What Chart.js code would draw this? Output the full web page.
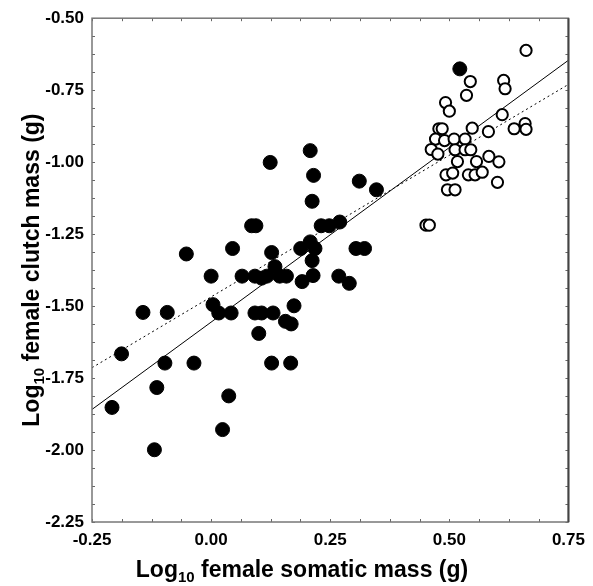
<!DOCTYPE html>
<html><head><meta charset="utf-8">
<script src="https://cdn.jsdelivr.net/npm/chart.js@4"></script>
<style>html,body{margin:0;padding:0;background:#fff}canvas{display:block}</style>
</head><body>
<canvas id="c" width="593" height="586"></canvas>
<script>
// Filled circles (black)
const filledX = [0.208,0.124,0.215,0.311,0.347,0.212,0.085,0.094,0.231,0.248,0.270,-0.052,0.045,0.127,0.188,0.208,0.218,0.212,0.304,0.322,0.134,0.000,0.065,0.092,0.106,0.117,0.144,0.158,0.191,0.214,0.268,0.290,0.004,-0.143,-0.092,0.016,0.042,0.092,0.106,0.130,0.174,0.156,0.168,0.100,-0.188,-0.097,-0.036,0.127,0.167,-0.114,0.037,-0.208,0.024,-0.119,0.522];
const filledY = [-0.960,-1.001,-1.046,-1.066,-1.096,-1.136,-1.221,-1.221,-1.221,-1.221,-1.208,-1.319,-1.300,-1.314,-1.300,-1.277,-1.300,-1.342,-1.300,-1.300,-1.363,-1.396,-1.396,-1.396,-1.403,-1.396,-1.396,-1.396,-1.415,-1.394,-1.396,-1.421,-1.495,-1.522,-1.522,-1.524,-1.524,-1.524,-1.524,-1.524,-1.499,-1.553,-1.562,-1.595,-1.666,-1.698,-1.698,-1.698,-1.698,-1.783,-1.812,-1.852,-1.929,-1.999,-0.676];
// Open circles
const openX = [0.661,0.544,0.614,0.617,0.536,0.492,0.500,0.611,0.478,0.485,0.548,0.582,0.636,0.659,0.661,0.471,0.490,0.510,0.533,0.462,0.476,0.512,0.533,0.545,0.517,0.557,0.583,0.604,0.493,0.507,0.540,0.554,0.569,0.601,0.496,0.512,0.451,0.458];
const openY = [-0.612,-0.720,-0.716,-0.745,-0.768,-0.793,-0.823,-0.835,-0.884,-0.884,-0.882,-0.894,-0.884,-0.866,-0.886,-0.920,-0.925,-0.920,-0.920,-0.956,-0.972,-0.957,-0.957,-0.957,-0.998,-0.998,-0.980,-0.999,-1.044,-1.038,-1.044,-1.044,-1.035,-1.070,-1.096,-1.096,-1.219,-1.219];
// Regression lines (end points)
const solidLineX = [-0.25, 0.75];
const solidLineY = [-1.859, -0.646];
const dottedLineX = [-0.25, 0.75];
const dottedLineY = [-1.714, -0.730];
// Tick labels
const xTickLabels = ['-0.25','0.00','0.25','0.50','0.75'];
const yTickLabels = ['-2.25','-2.00','-1.75','-1.50','-1.25','-1.00','-0.75','-0.50'];
const xTitle = ['Log', '10', ' female somatic mass (g)'];
const yTitle = ['Log', '10', ' female clutch mass (g)'];

const zip = (xs, ys) => xs.map((x, i) => ({x, y: ys[i]}));
const FONT = '"Liberation Sans", Arial, Helvetica, sans-serif';

function drawTitle(ctx, parts, size, subSize, subDrop) {
  ctx.font = 'bold ' + size + 'px ' + FONT;
  const w0 = ctx.measureText(parts[0]).width;
  const w2 = ctx.measureText(parts[2]).width;
  ctx.font = 'bold ' + subSize + 'px ' + FONT;
  const w1 = ctx.measureText(parts[1]).width;
  const total = w0 + w1 + w2;
  let x = -total / 2;
  ctx.textAlign = 'left';
  ctx.textBaseline = 'alphabetic';
  ctx.fillStyle = '#000';
  ctx.font = 'bold ' + size + 'px ' + FONT;
  ctx.fillText(parts[0], x, 0); x += w0;
  ctx.font = 'bold ' + subSize + 'px ' + FONT;
  ctx.fillText(parts[1], x, subDrop); x += w1;
  ctx.font = 'bold ' + size + 'px ' + FONT;
  ctx.fillText(parts[2], x, 0);
}

const framePlugin = {
  id: 'frame',
  afterDatasetsDraw(chart) {
    const {ctx, chartArea: a, scales: {x, y}} = chart;
    ctx.save();
    const step = 0.0625, tl = 3;
    ctx.strokeStyle = '#666';
    ctx.lineWidth = 1;
    ctx.beginPath();
    for (let v = x.min; v <= x.max + 1e-9; v += step) {
      const px = Math.round(x.getPixelForValue(v)) + 0.5;
      ctx.moveTo(px, a.bottom); ctx.lineTo(px, a.bottom - tl);
      ctx.moveTo(px, a.top); ctx.lineTo(px, a.top + tl);
    }
    for (let v = y.min; v <= y.max + 1e-9; v += step) {
      const py = Math.round(y.getPixelForValue(v)) + 0.5;
      ctx.moveTo(a.left, py); ctx.lineTo(a.left + tl, py);
      ctx.moveTo(a.right, py); ctx.lineTo(a.right - tl, py);
    }
    ctx.stroke();
    ctx.strokeStyle = '#777';
    ctx.lineWidth = 1.5;
    ctx.strokeRect(a.left, a.top, a.right - a.left, a.bottom - a.top);
    ctx.strokeStyle = '#444';
    ctx.lineWidth = 2;
    ctx.beginPath(); ctx.moveTo(a.right, a.top); ctx.lineTo(a.right, a.bottom); ctx.stroke();
    ctx.restore();
  },
  afterDraw(chart) {
    const {ctx, chartArea: a} = chart;
    ctx.save();
    ctx.translate(302, 577);
    drawTitle(ctx, xTitle, 23, 15, 5);
    ctx.restore();
    ctx.save();
    ctx.translate(39, (a.top + a.bottom) / 2);
    ctx.rotate(-Math.PI / 2);
    drawTitle(ctx, yTitle, 23, 15, 5);
    ctx.restore();
  }
};

const labelFor = (arr) => (v) => {
  const s = Number(v).toFixed(2);
  const t = s === '-0.00' ? '0.00' : s;
  return arr.includes(t) ? t : '';
};

new Chart(document.getElementById('c'), {
  type: 'scatter',
  data: {
    datasets: [
      { type: 'line', data: zip(solidLineX, solidLineY), borderColor: '#000', borderWidth: 1, pointRadius: 0, fill: false, order: 3 },
      { type: 'line', data: zip(dottedLineX, dottedLineY), borderColor: '#000', borderWidth: 1, borderDash: [2, 3], pointRadius: 0, fill: false, order: 4 },
      { data: zip(filledX, filledY), backgroundColor: '#000', borderColor: '#000', borderWidth: 1, pointRadius: 7, pointHoverRadius: 7, order: 2 },
      { data: zip(openX, openY), backgroundColor: '#fff', borderColor: '#000', borderWidth: 2, pointRadius: 5.6, pointHoverRadius: 5.6, order: 1 }
    ]
  },
  options: {
    responsive: false,
    animation: false,
    devicePixelRatio: 1,
    layout: { padding: { left: 0, top: 15, right: 20, bottom: 0 } },
    plugins: { legend: { display: false }, tooltip: { enabled: false } },
    scales: {
      x: {
        type: 'linear', min: -0.25, max: 0.75,
        afterFit: (s) => { s.height = 64; },
        grid: { display: false, drawTicks: false },
        border: { display: false },
        ticks: { stepSize: 0.25, autoSkip: false, maxRotation: 0, padding: 8, color: '#000',
          font: { family: FONT, size: 17, weight: 'bold' }, callback: labelFor(xTickLabels) }
      },
      y: {
        type: 'linear', min: -2.25, max: -0.5,
        afterFit: (s) => { s.width = 92; },
        grid: { display: false, drawTicks: false },
        border: { display: false },
        ticks: { stepSize: 0.25, autoSkip: false, padding: 8, color: '#000',
          font: { family: FONT, size: 17, weight: 'bold' }, callback: labelFor(yTickLabels) }
      }
    }
  },
  plugins: [framePlugin]
});
</script>
</body></html>
